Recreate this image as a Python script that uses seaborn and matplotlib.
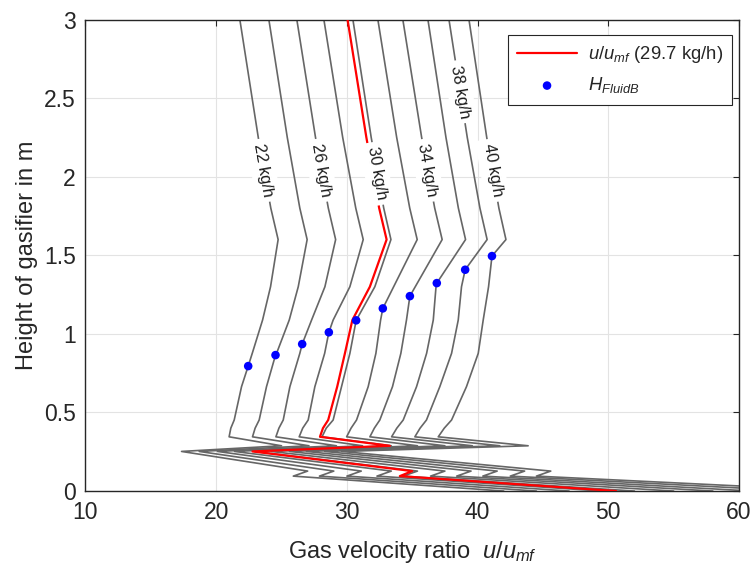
import numpy as np
import pandas as pd
import matplotlib
matplotlib.use("Agg")
import matplotlib.pyplot as plt
import seaborn as sns
from matplotlib.ticker import FuncFormatter, MultipleLocator

# ---------------- data ----------------
flows = [22, 24, 26, 28, 30, 32, 34, 36, 38, 40]          # kg/h, gray profiles
label_flows = [22, 26, 30, 34, 38, 40]
label_x = [23.62, 28.00, 32.30, 36.15, 38.66, 41.15]
label_y = [2.04, 2.04, 2.02, 2.04, 2.54, 2.04]

# heights (m) of the upper part of each profile
h_upper = [3.0, 2.25, 1.8, 1.6, 1.30, 1.088, 0.876, 0.664, 0.452, 0.40, 0.345]
# u/umf of each gray profile at those heights (nan = no vertex there)
x_h300 = [21.81, 24.03, 26.17, 28.24, 30.46, 32.37, 34.28, 36.20, 37.81, 39.34]
x_h225 = [23.22, 25.44, 27.60, 29.68, 31.86, 33.81, 35.72, 37.58, 39.21, 40.70]
x_h180 = [24.18, 26.40, 28.58, 30.68, 32.82, 34.81, 36.72, 38.53, 40.18, 41.63]
x_h160 = [24.74, 26.96, 29.14, 31.25, 33.37, 35.38, 37.29, 39.08, 40.73, 42.17]
x_h130 = [24.16, 26.28, 28.32, 30.23, 32.14, np.nan, np.nan, 36.82, 38.77, 40.84]
x_h109 = [23.55, 25.59, 27.30, 28.95, np.nan, 32.58, 34.56, 36.61, 38.52, 40.43]
x_h088 = [22.76, 24.62, 26.40, 28.30, 30.23, 32.22, 34.13, 36.10, 38.01, 40.05]
x_h066 = [21.94, 23.85, 25.64, 27.55, 29.59, 31.63, 33.49, 35.33, 37.11, 39.15]
x_h045 = [21.38, 23.29, 25.13, 27.04, 28.95, 30.74, 32.52, 34.31, 36.09, 38.01]
x_h040 = [21.12, 22.98, 24.80, 26.62, 28.42, 30.32, 32.10, 33.82, 35.60, 37.45]
x_h035 = [20.99, 22.78, 24.57, 26.35, 28.10, 29.98, 31.76, 33.42, 35.20, 36.99]

# lower (zig-zag) part of each profile
h_lower = [0.288, 0.252, 0.127, 0.095, 0.0]
x_turn = [25.00, 27.10, 29.20, 31.20, 33.40, 35.40, 37.50, 39.60, 41.70, 43.87]
x_tip = [17.35, 18.70, 20.10, 21.40, 22.90, 24.20, 25.60, 26.90, 28.30, 29.60]
x_zig_hi = [27.00, 29.00, 31.10, 33.40, 35.40, 37.50, 39.50, 41.50, 43.60, 45.60]
x_zig_lo = [25.90, 27.90, 30.00, 32.30, 34.30, 36.40, 38.40, 40.40, 42.50, 44.50]
x_base = [42.00, 44.50, 47.00, 49.50, 52.00, 55.00, 58.00, 61.00, 64.50, 68.00]

# fluidised-bed height markers
hfb_x = [22.45, 24.54, 26.58, 28.62, 30.71, 32.75, 34.82, 36.88, 39.05, 41.10]
hfb_y = [0.795, 0.865, 0.935, 1.010, 1.086, 1.162, 1.240, 1.323, 1.408, 1.495]

# red profile, 29.7 kg/h
red_upper_x = [30.05, 31.49, 32.47, 33.04, 31.76, 30.42, 29.85, 29.26, 28.57, 28.17, 27.94]
red_lower_x = [33.29, 22.78, 35.00, 34.05, 50.60]

# ---------------- style ----------------
sns.set_theme(style="white")
plt.rcParams["font.family"] = ["Liberation Sans", "DejaVu Sans"]
plt.rcParams["mathtext.fontset"] = "custom"
plt.rcParams["mathtext.rm"] = "Liberation Sans"
plt.rcParams["mathtext.it"] = "Liberation Sans:italic"

fig = plt.figure(figsize=(7.53, 5.69), dpi=100)
ax = fig.add_axes([0.1135, 0.137, 0.8679, 0.8287])

gray = "#666666"
upper_cols = [x_h300, x_h225, x_h180, x_h160, x_h130, x_h109,
              x_h088, x_h066, x_h045, x_h040, x_h035]
lower_cols = [x_turn, x_tip, x_zig_hi, x_zig_lo, x_base]

for i, f in enumerate(flows):
    pts = [(col[i], h) for col, h in zip(upper_cols, h_upper) if not np.isnan(col[i])]
    pts.append((hfb_x[i], hfb_y[i]))
    pts.sort(key=lambda p: -p[1])
    pts += [(col[i], h) for col, h in zip(lower_cols, h_lower)]
    df = pd.DataFrame(pts, columns=["u", "h"])
    sns.lineplot(data=df, x="u", y="h", sort=False, estimator=None,
                 color=gray, linewidth=1.2, ax=ax, zorder=2)

red_df = pd.DataFrame({"u": red_upper_x + red_lower_x, "h": h_upper + h_lower})
sns.lineplot(data=red_df, x="u", y="h", sort=False, estimator=None,
             color="#ff0000", linewidth=1.6, ax=ax, zorder=3,
             label=r"$u/u_{mf}$ (29.7 kg/h)")

sns.scatterplot(x=hfb_x, y=hfb_y, color="#0000ff", s=38, edgecolor="none",
                ax=ax, zorder=4, label=r"$H_{FluidB}$")

for f, lx, ly in zip(label_flows, label_x, label_y):
    ax.text(lx, ly, f"{f} kg/h", rotation=-80, rotation_mode="anchor",
            ha="center", va="center", fontsize=11.8, color="#1a1a1a", zorder=5,
            bbox=dict(boxstyle="square,pad=0.3", fc="white", ec="none"))

ax.set_xlim(10, 60)
ax.set_ylim(0, 3)
ax.xaxis.set_major_locator(MultipleLocator(10))
ax.yaxis.set_major_locator(MultipleLocator(0.5))
ax.yaxis.set_major_formatter(FuncFormatter(lambda v, p: f"{v:g}"))
ax.grid(True, color="#e3e3e3", linewidth=0.8)
ax.set_axisbelow(True)
for s in ax.spines.values():
    s.set_color("#262626")
    s.set_linewidth(1.0)
ax.tick_params(direction="in", length=4.5, width=0.8, top=True, right=True,
               labelsize=16.5, colors="#262626", pad=7)
ax.set_xlabel(r"Gas velocity ratio  $u/u_{mf}$", fontsize=17, color="#262626", labelpad=11)
ax.set_ylabel("Height of gasifier in m", fontsize=17, color="#262626", labelpad=4)

leg = ax.legend(loc="upper right", bbox_to_anchor=(0.9893, 0.9671), fontsize=13.3,
                frameon=True, fancybox=False, edgecolor="#262626", framealpha=1,
                handlelength=3.2, handletextpad=0.6, borderpad=0.5,
                labelspacing=0.55, borderaxespad=0.0)
leg.get_frame().set_linewidth(0.8)

fig.savefig("out.png", dpi=100)
